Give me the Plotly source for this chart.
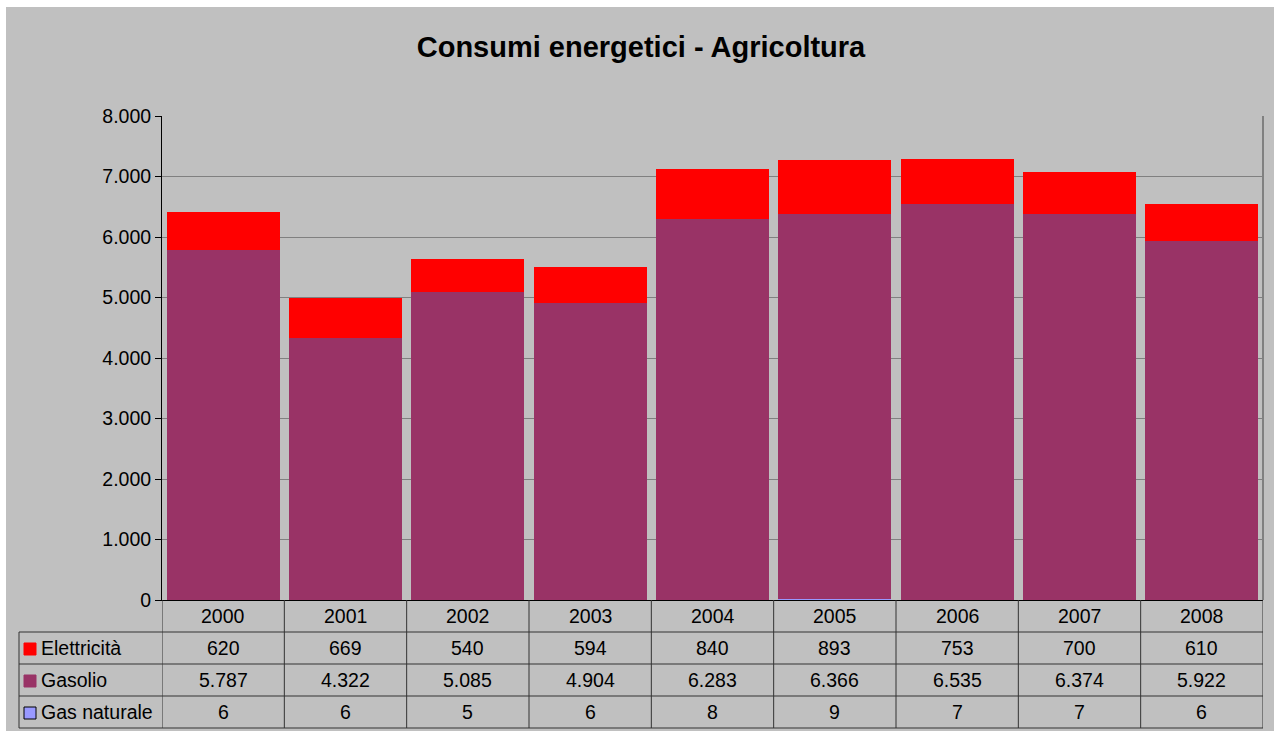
import plotly.graph_objects as go

anni = ["2000", "2001", "2002", "2003", "2004", "2005", "2006", "2007", "2008"]
elettricita = [620, 669, 540, 594, 840, 893, 753, 700, 610]
gasolio = [5787, 4322, 5085, 4904, 6283, 6366, 6535, 6374, 5922]
gas_naturale = [6, 6, 5, 6, 8, 9, 7, 7, 6]

serie = [
    ("Elettricità", elettricita, "#FF0000"),
    ("Gasolio", gasolio, "#993366"),
    ("Gas naturale", gas_naturale, "#9999FF"),
]

FONT = "Liberation Sans, Arial, sans-serif"
FS = 19.5
W, H = 1274, 731
L, R, T, B = 162, 1263, 116, 600


def px_x(p):
    return (p - L) / (R - L)


def px_y(p):
    return (B - p) / (B - T)


def fmt(v):
    return f"{v:,}".replace(",", ".")


fig = go.Figure()
# impilate dal basso: gas naturale, gasolio, elettricita
for nome, valori, colore in reversed(serie):
    fig.add_trace(go.Bar(x=anni, y=valori, name=nome, marker=dict(color=colore, line=dict(width=0)),
                         showlegend=False))

shapes = []
# sfondo grigio del grafico
shapes.append(dict(type="rect", xref="paper", yref="paper", x0=px_x(6), x1=px_x(1274),
                   y0=px_y(731), y1=px_y(7), fillcolor="#C0C0C0", line=dict(width=0), layer="below"))
# bordo destro area del grafico
shapes.append(dict(type="line", xref="paper", yref="paper", x0=1, x1=1, y0=0, y1=1,
                   line=dict(color="#808080", width=2)))

tab_line = dict(color="#333333", width=1)
row_px = [632, 664, 696, 728]
for rp in row_px:
    shapes.append(dict(type="line", xref="paper", yref="paper", x0=px_x(19), x1=1,
                       y0=px_y(rp), y1=px_y(rp), line=tab_line))
shapes.append(dict(type="line", xref="paper", yref="paper", x0=px_x(19), x1=px_x(19),
                   y0=px_y(632), y1=px_y(728), line=tab_line))
for i in range(len(anni) + 1):
    shapes.append(dict(type="line", xref="x", yref="paper", x0=i - 0.5, x1=i - 0.5,
                       y0=0, y1=px_y(728), line=tab_line))

annotations = []
testo = dict(size=FS, color="black", family=FONT)
# riga intestazione con gli anni
for i, a in enumerate(anni):
    annotations.append(dict(x=i, y=px_y(616), xref="x", yref="paper", text=a, showarrow=False,
                            xanchor="center", yanchor="middle", font=testo))
for r, (nome, valori, colore) in enumerate(serie):
    yc = px_y(648 + 32 * r)
    for i, v in enumerate(valori):
        annotations.append(dict(x=i, y=yc, xref="x", yref="paper", text=fmt(v), showarrow=False,
                                xanchor="center", yanchor="middle", font=testo))
    annotations.append(dict(x=px_x(39), y=yc, xref="paper", yref="paper", text=nome, showarrow=False,
                            xanchor="left", yanchor="middle", font=testo))
    bordo = "#000000" if nome == "Gas naturale" else colore
    shapes.append(dict(type="rect", xref="paper", yref="paper", x0=px_x(24), x1=px_x(36),
                       y0=px_y(655 + 32 * r), y1=px_y(643 + 32 * r), fillcolor=colore,
                       line=dict(color=bordo, width=1)))

fig.update_layout(
    width=W,
    height=H,
    barmode="stack",
    bargap=0.075,
    separators=",.",
    paper_bgcolor="white",
    plot_bgcolor="#C0C0C0",
    margin=dict(l=L, r=W - R, t=T, b=H - B, pad=0),
    title=dict(text="<b>Consumi energetici - Agricoltura</b>", x=641 / W, xanchor="center",
               y=1 - 47 / H, yanchor="middle", font=dict(size=29, color="black", family=FONT)),
    font=dict(family=FONT, color="black", size=FS),
    xaxis=dict(showticklabels=False, ticks="", range=[-0.5, 8.5], showgrid=False,
               showline=True, linecolor="black", linewidth=1, zeroline=False),
    yaxis=dict(range=[0, 8000], dtick=1000, tickformat=",d", showgrid=True, gridcolor="#808080",
               gridwidth=1, showline=True, linecolor="black", linewidth=1, ticks="outside",
               ticklen=6, tickcolor="black", zeroline=False, tickfont=dict(size=FS)),
    shapes=shapes,
    annotations=annotations,
)

fig.write_html("out.html", config={"displayModeBar": False},
               post_script="document.body.style.margin='0';")
